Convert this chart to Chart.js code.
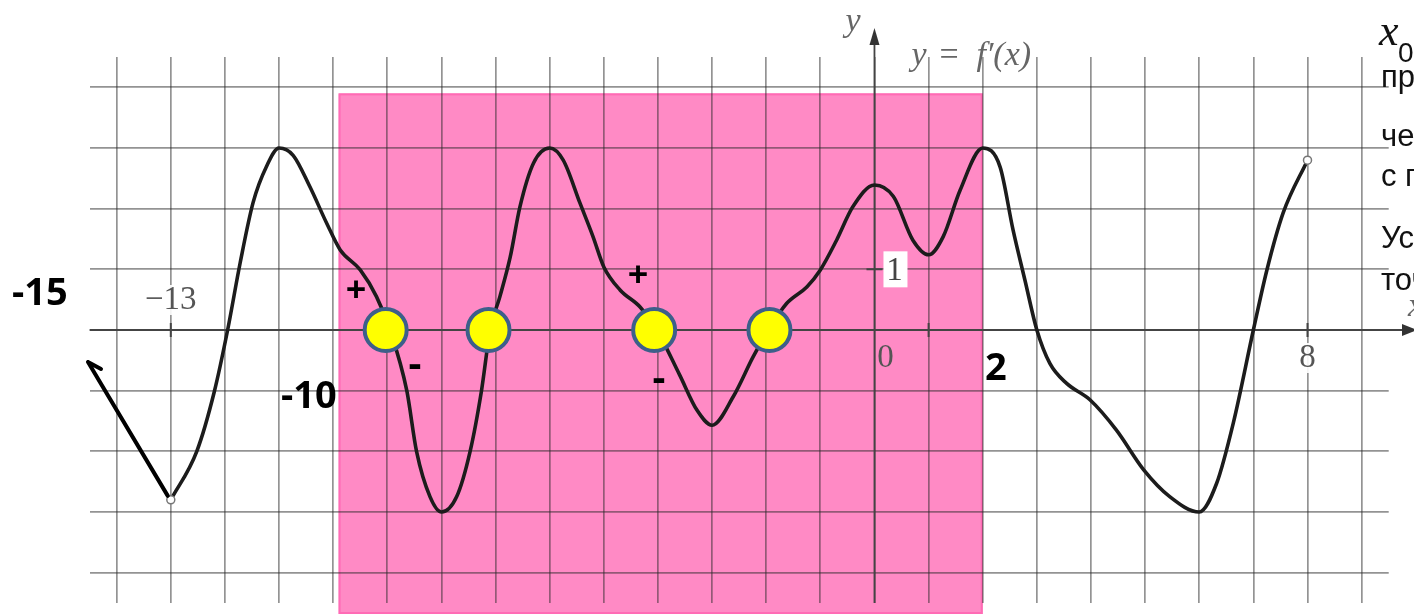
<!DOCTYPE html>
<html lang="ru">
<head>
  <meta charset="UTF-8" />
  <title>y = f'(x)</title>
  <script src="https://cdn.jsdelivr.net/npm/chart.js"></script>
  <style>
    html, body {
      margin: 0;
      padding: 0;
      background: #fff;
      overflow: hidden;
    }
    canvas { display: block; }
  </style>
</head>
<body>
  <canvas id="grafico" width="1414" height="614"></canvas>

  <script>
    // f'(x)
    const curveX = [-13, -12.52, -12.2, -11.95, -11.72, -11.48, -11.23, -11, -10.74, -10.43, -10.12, -9.87, -9.5, -9.2,
      -8.95, -8.64, -8.46, -8.21, -8, -7.72, -7.47, -7.26, -7.1, -6.92, -6.73, -6.55, -6.3, -6, -5.75, -5.44, -5.2, -5,
      -4.7, -4.33, -4.05, -3.6, -3.28, -3, -2.61, -2.24, -1.96, -1.62, -1.25, -1, -0.7, -0.4, 0, 0.35, 0.71, 1, 1.27,
      1.58, 2, 2.32, 2.56, 2.78, 3, 3.24, 3.55, 3.98, 4.47, 4.97, 5.46, 6, 6.32, 6.63, 7, 7.25, 7.55, 8];
    const curveY = [-2.8, -2.0, -1.03, 0, 1.1, 2.1, 2.7, 3, 2.88, 2.36, 1.76, 1.32, 0.99, 0.55,
      0, -1.0, -2.0, -2.75, -3, -2.75, -2.0, -1.0, 0, 0.55, 1.2, 2.03, 2.75, 3, 2.8, 2.09, 1.54, 1.04,
      0.66, 0.38, 0.05, -0.74, -1.32, -1.57, -1.1, -0.44, 0, 0.44, 0.71, 0.99, 1.48, 2.03, 2.39, 2.2, 1.48, 1.24, 1.54,
      2.3, 3, 2.69, 1.65, 0.82, 0, -0.55, -0.88, -1.15, -1.65, -2.3, -2.75, -3, -2.53, -1.53, 0, 0.99, 1.93, 2.8];

    // zeros of f' marked with yellow dots
    const zerosX = [-9.03, -7.13, -4.07, -1.94];

    // grid lines and the few labelled ticks
    const gridX = [-14, -13, -12, -11, -10, -9, -8, -7, -6, -5, -4, -3, -2, -1, 0, 1, 2, 3, 4, 5, 6, 7, 8, 9];
    const gridY = [-4, -3, -2, -1, 0, 1, 2, 3, 4];
    const tickLabelsX = ['−13', '0', '8'];
    const tickValuesX = [-13, 0, 8];
    const tickLabelsY = ['1'];
    const tickValuesY = [1];

    // highlighted segment [-10; 2]
    const segment = [-9.9, 2];

    const textLines = ['при переходе', 'через неё производная', 'с плюса на минус.', 'Условие выполняется в', 'точках'];

    const decor = {
      id: 'decor',
      beforeDraw(chart) {
        const { ctx, scales: { x, y } } = chart;
        ctx.save();
        ctx.fillStyle = '#fff';
        ctx.fillRect(0, 0, chart.width, chart.height);
        const left = x.getPixelForValue(segment[0]);
        const right = x.getPixelForValue(segment[1]);
        const top = y.getPixelForValue(3.9);
        ctx.fillStyle = '#FF8AC5';
        ctx.fillRect(left, top, right - left, chart.height - top);
        ctx.strokeStyle = '#FF6BB5';
        ctx.lineWidth = 2;
        ctx.strokeRect(left + 1, top + 1, right - left - 2, chart.height - top - 2);
        ctx.restore();
      },
      beforeDatasetsDraw(chart) {
        const { ctx, chartArea, scales: { x, y } } = chart;
        const x0 = x.getPixelForValue(0);
        const y0 = y.getPixelForValue(0);
        ctx.save();
        ctx.strokeStyle = '#444';
        ctx.fillStyle = '#333';
        ctx.lineWidth = 1.8;
        ctx.beginPath();
        ctx.moveTo(x0, chartArea.bottom);
        ctx.lineTo(x0, 40);
        ctx.moveTo(chartArea.left, y0);
        ctx.lineTo(chart.width - 8, y0);
        ctx.stroke();
        ctx.beginPath();
        ctx.moveTo(x0, 28);
        ctx.lineTo(x0 - 5, 45);
        ctx.lineTo(x0 + 5, 45);
        ctx.fill();
        ctx.beginPath();
        ctx.moveTo(chart.width + 3, y0);
        ctx.lineTo(chart.width - 12, y0 - 6);
        ctx.lineTo(chart.width - 12, y0 + 6);
        ctx.fill();

        // small tick marks
        ctx.lineWidth = 2;
        ctx.beginPath();
        [-13, 1, 8].forEach(v => {
          const px = x.getPixelForValue(v);
          ctx.moveTo(px, y0 - 7);
          ctx.lineTo(px, y0 + 7);
        });
        tickValuesY.forEach(v => {
          const py = y.getPixelForValue(v);
          ctx.moveTo(x0 - 8, py);
          ctx.lineTo(x0 + 8, py);
        });
        ctx.stroke();

        // tick labels
        ctx.font = '33px "Liberation Serif", serif';
        ctx.textAlign = 'center';
        ctx.textBaseline = 'middle';
        tickValuesX.forEach((v, i) => {
          const px = x.getPixelForValue(v);
          let cx = px, cy = y0 + 28;
          if (v < 0) { cy = y0 - 30; }
          if (v === 0) { cx = px + 11; }
          const w = ctx.measureText(tickLabelsX[i]).width;
          ctx.fillStyle = 'rgba(255,255,255,0.9)';
          if (v !== 0) ctx.fillRect(cx - w / 2 - 3, cy - 15, w + 6, 30);
          ctx.fillStyle = '#555';
          ctx.fillText(tickLabelsX[i], cx, cy);
        });
        tickValuesY.forEach((v, i) => {
          const py = y.getPixelForValue(v);
          ctx.fillStyle = '#fff';
          ctx.fillRect(x0 + 9, py - 18, 24, 36);
          ctx.fillStyle = '#444';
          ctx.fillText(tickLabelsY[i], x0 + 20, py + 2);
        });

        // axis names
        ctx.textAlign = 'left';
        ctx.textBaseline = 'alphabetic';
        ctx.fillStyle = '#666';
        ctx.font = 'italic 34px "Liberation Serif", serif';
        ctx.fillText('y', x0 - 29, 31);
        ctx.fillText('x', chart.width - 6, y0 - 14);
        ctx.fillText('y', x0 + 37, 65);
        ctx.fillText('f′(x)', x0 + 102, 65);
        ctx.font = '34px "Liberation Serif", serif';
        ctx.fillText('=', x0 + 65, 65);
        ctx.restore();
      },
      afterDraw(chart) {
        const { ctx, scales: { x, y } } = chart;
        ctx.save();
        ctx.fillStyle = '#000';
        ctx.textBaseline = 'alphabetic';
        ctx.textAlign = 'left';
        ctx.font = '700 38px "Open Sans", sans-serif';
        ctx.fillText('-15', 12, 305);
        ctx.fillText('-10', 281, 408);
        ctx.fillText('2', 985, 380);
        ctx.textAlign = 'center';
        ctx.textBaseline = 'middle';
        ctx.font = '700 36px "Open Sans", sans-serif';
        ctx.fillText('+', 356, 292);
        ctx.fillText('+', 638, 277);
        ctx.font = '700 40px "Open Sans", sans-serif';
        ctx.fillText('-', 415, 366);
        ctx.fillText('-', 659, 380);

        // pointer arrow from the left end of the graph
        const sx = x.getPixelForValue(curveX[0]) - 3;
        const sy = y.getPixelForValue(curveY[0]) - 4;
        ctx.strokeStyle = '#000';
        ctx.lineWidth = 4;
        ctx.lineCap = 'round';
        ctx.beginPath();
        ctx.moveTo(sx, sy);
        ctx.lineTo(88, 362);
        ctx.moveTo(88, 362);
        ctx.lineTo(101, 369);
        ctx.stroke();

        // cropped text at the right edge
        ctx.textAlign = 'left';
        ctx.textBaseline = 'alphabetic';
        ctx.fillStyle = '#111';
        ctx.font = 'italic 44px "Liberation Serif", serif';
        ctx.fillText('x', 1379, 45);
        ctx.font = '28px "Liberation Sans", sans-serif';
        ctx.fillText('0 — точка максимума, если', 1398, 62);
        ctx.font = '31px "Liberation Sans", sans-serif';
        const baselines = [87, 146, 186, 248, 290];
        textLines.forEach((t, i) => ctx.fillText(t, 1381, baselines[i]));
        ctx.restore();
      }
    };

    const ctx = document.getElementById('grafico').getContext('2d');

    new Chart(ctx, {
      type: 'line',
      data: {
        datasets: [
          {
            label: 'нули',
            data: zerosX.map(v => ({ x: v, y: 0 })),
            showLine: false,
            pointRadius: 21,
            pointBackgroundColor: '#FFFF00',
            pointBorderColor: '#3D5F8A',
            pointBorderWidth: 4,
            order: 0
          },
          {
            label: "f'(x)",
            data: curveX.map((v, i) => ({ x: v, y: curveY[i] })),
            borderColor: '#1c1c1c',
            borderWidth: 3.6,
            cubicInterpolationMode: 'monotone',
            pointRadius: c => (c.dataIndex === 0 || c.dataIndex === curveX.length - 1) ? 4 : 0,
            pointBackgroundColor: '#fff',
            pointBorderColor: '#777',
            pointBorderWidth: 1.5,
            order: 1
          }
        ]
      },
      options: {
        responsive: false,
        animation: false,
        layout: { autoPadding: false, padding: { left: 89.6, right: 25.3, top: 57, bottom: 11 } },
        scales: {
          x: {
            type: 'linear',
            min: -14.5,
            max: 9.5,
            afterBuildTicks: axis => { axis.ticks = gridX.map(v => ({ value: v })); },
            afterFit: axis => { axis.height = 0; },
            ticks: { display: false },
            grid: { color: 'rgba(40,40,40,0.5)', lineWidth: 1.7, drawTicks: false },
            border: { display: false }
          },
          y: {
            type: 'linear',
            min: -4.5,
            max: 4.5,
            afterBuildTicks: axis => { axis.ticks = gridY.map(v => ({ value: v })); },
            afterFit: axis => { axis.width = 0; },
            ticks: { display: false },
            grid: { color: 'rgba(40,40,40,0.5)', lineWidth: 1.7, drawTicks: false },
            border: { display: false }
          }
        },
        plugins: {
          legend: { display: false },
          tooltip: { enabled: false }
        }
      },
      plugins: [decor]
    });
  </script>
</body>
</html>
